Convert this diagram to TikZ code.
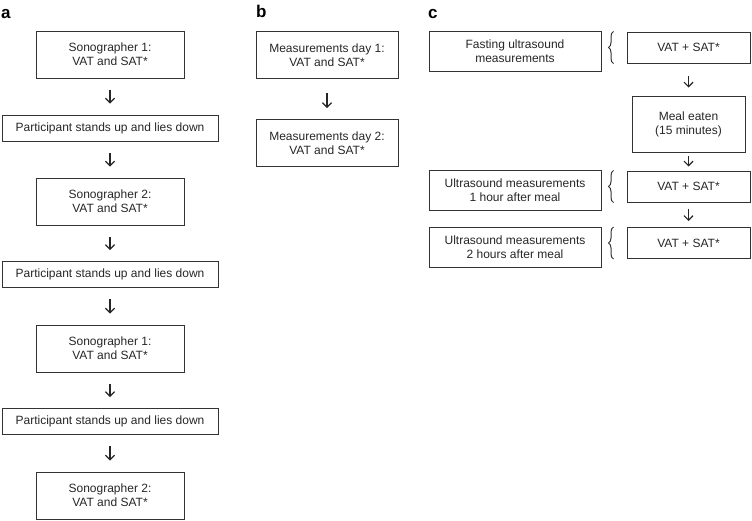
\documentclass[tikz,border=0pt]{standalone}
\usepackage{fontspec}
\setmainfont{Liberation Sans}
\usetikzlibrary{arrows.meta,decorations.pathreplacing}
\tikzset{
  box/.style={draw=black!80,line width=1pt,inner sep=0pt,align=center,
    text=black!85,font=\fontsize{12}{14}\selectfont},
  sono/.style={box,minimum width=148pt,minimum height=47pt},
  stand/.style={box,minimum width=216pt,minimum height=26pt},
  dayb/.style={box,minimum width=142pt,minimum height=47pt},
  meas/.style={box,minimum width=172pt,minimum height=40pt},
  vat/.style={box,minimum width=123pt,minimum height=31pt},
  panel/.style={anchor=base west,inner sep=0pt,font=\fontsize{17}{17}\selectfont\bfseries},
  flow/.style={->,line width=1.2pt,draw=black!85},
  brace/.style={decorate,decoration={brace,amplitude=5pt},line width=1pt,draw=black!80}
}
\begin{document}
\begin{tikzpicture}[x=1pt,y=-1pt,>={Straight Barb[length=4.5pt,width=9pt]}]
  \useasboundingbox (0,0) rectangle (752,520);
  % panel letters
  \node[panel] (la) at (1,18) {a};
  \node[panel] (lb) at (256,17) {b};
  \node[panel] (lc) at (428,18) {c};
  % a: repeated measurements
  \node[sono]  (a1) at (110,54.5)  {Sonographer 1:\\VAT and SAT*};
  \node[stand] (p1) at (110,128)   {Participant stands up and lies down};
  \node[sono]  (a2) at (110,201.5) {Sonographer 2:\\VAT and SAT*};
  \node[stand] (p2) at (110,274.5) {Participant stands up and lies down};
  \node[sono]  (a3) at (110,348.5) {Sonographer 1:\\VAT and SAT*};
  \node[stand] (p3) at (110,421.5) {Participant stands up and lies down};
  \node[sono]  (a4) at (110,495.5) {Sonographer 2:\\VAT and SAT*};
  \draw[flow,shorten <=11pt,shorten >=11pt] (a1) -- (p1);
  \draw[flow,shorten <=11pt,shorten >=11pt] (p1) -- (a2);
  \draw[flow,shorten <=11pt,shorten >=11pt] (a2) -- (p2);
  \draw[flow,shorten <=11pt,shorten >=11pt] (p2) -- (a3);
  \draw[flow,shorten <=11pt,shorten >=11pt] (a3) -- (p3);
  \draw[flow,shorten <=11pt,shorten >=11pt] (p3) -- (a4);
  % b: two days
  \node[dayb] (b1) at (327,55)  {Measurements day 1:\\VAT and SAT*};
  \node[dayb] (b2) at (327,143) {Measurements day 2:\\VAT and SAT*};
  \draw[flow,shorten <=14pt,shorten >=11pt] (b1) -- (b2);
  % c: meal test
  \node[meas] (m1) at (515,51)    {Fasting ultrasound\\measurements};
  \node[meas] (m2) at (515,190.5) {Ultrasound measurements\\1 hour after meal};
  \node[meas] (m3) at (515,247)   {Ultrasound measurements\\2 hours after meal};
  \node[vat] (r1) at (688.5,47.5)  {VAT + SAT*};
  \node[box,minimum width=113pt,minimum height=56pt] (meal) at (688.5,124) {Meal eaten\\(15 minutes)};
  \node[vat] (r2) at (688.5,186.5) {VAT + SAT*};
  \node[vat] (r3) at (688.5,243)   {VAT + SAT*};
  \draw[brace] ([xshift=-13pt]r1.south west) -- ([xshift=-13pt]r1.north west);
  \draw[brace] ([xshift=-13pt]r2.south west) -- ([xshift=-13pt]r2.north west);
  \draw[brace] ([xshift=-13pt]r3.south west) -- ([xshift=-13pt]r3.north west);
  \draw[flow,shorten <=12pt,shorten >=8pt] (r1) -- (meal);
  \draw[flow,shorten <=3pt,shorten >=4pt] (meal) -- (r2);
  \draw[flow,shorten <=6pt,shorten >=6pt] (r2) -- (r3);
\end{tikzpicture}
\end{document}
